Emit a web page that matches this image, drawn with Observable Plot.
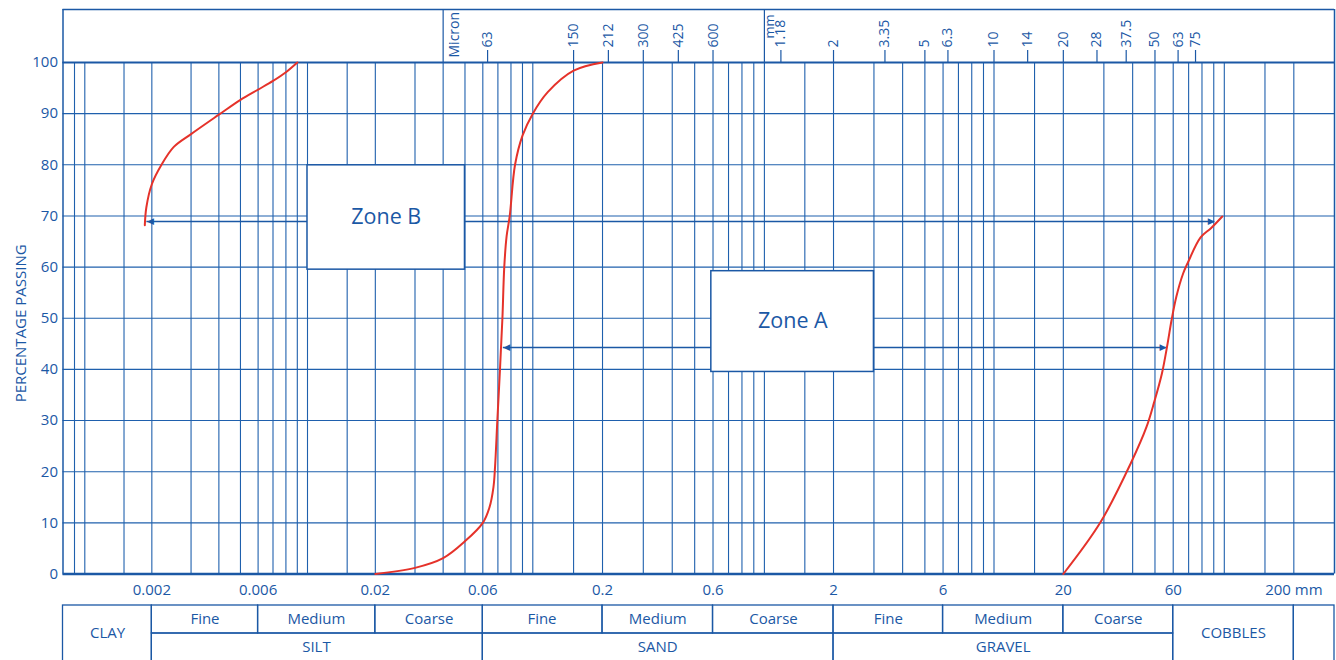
<!DOCTYPE html>
<html>
<head>
<meta charset="utf-8">
<script src="https://cdn.jsdelivr.net/npm/d3@7"></script>
<script src="https://cdn.jsdelivr.net/npm/@observablehq/plot@0.6"></script>
<style>
  html, body { margin: 0; padding: 0; background: #fff; overflow: hidden; }
  #chart svg { display: block; }
</style>
</head>
<body>
<div id="chart"></div>
<script>
// ---------- DATA (particle size in mm, percentage passing) ----------
const sizeExtent = [0.0008, 300];
const gridSizes = [0.0009,
  0.001, 0.0015, 0.002, 0.003, 0.004, 0.005, 0.006, 0.007, 0.008, 0.009,
  0.01, 0.015, 0.02, 0.03, 0.04, 0.05, 0.06, 0.07, 0.08, 0.09,
  0.1, 0.15, 0.2, 0.3, 0.4, 0.5, 0.6, 0.7, 0.8, 0.9,
  1, 1.5, 2, 3, 4, 5, 6, 7, 8, 9,
  10, 15, 20, 30, 40, 50, 60, 70, 80, 90,
  100, 150, 200];
const percentTicks = [0, 10, 20, 30, 40, 50, 60, 70, 80, 90, 100];
const bottomTicks = [0.002, 0.006, 0.02, 0.06, 0.2, 0.6, 2, 6, 20, 60, 200];
const bottomLabels = ["0.002", "0.006", "0.02", "0.06", "0.2", "0.6", "2", "6", "20", "60", "200 mm"];
const micronSieves = [63, 150, 212, 300, 425, 600];           // µm
const mmSieves = [1.18, 2, 3.35, 5, 6.3, 10, 14, 20, 28, 37.5, 50, 63, 75]; // mm
const unitDividers = [0.04, 1];
const unitNames = ["Micron", "mm"];

const curveZoneB = [[0.00186, 68.2], [0.00189, 71.7], [0.002, 76.2], [0.00221, 80], [0.00251, 83.5],
  [0.003, 86], [0.004, 89.8], [0.005, 92.7], [0.006, 94.7], [0.007, 96.4], [0.008, 98.1], [0.009, 100]];
const curveMiddle = [[0.02, 0], [0.03, 1.2], [0.04, 3.1], [0.05, 6.4], [0.06, 10], [0.0642, 13],
  [0.0669, 17], [0.068, 21], [0.0696, 30], [0.0715, 40], [0.0733, 50], [0.0747, 60], [0.0765, 66],
  [0.079, 70], [0.0834, 80], [0.09, 85.7], [0.1, 90], [0.116, 94.2], [0.15, 98.4], [0.2, 100]];
const curveZoneA = [[20, 0], [28.9, 10], [39.4, 21.8], [45.9, 28.7], [49.6, 33.6], [53.6, 39.2],
  [56.7, 45], [59, 49.6], [61.9, 54.2], [66.2, 58.7], [69.5, 60.9], [78.9, 65.8], [87.5, 67.6], [98, 69.9]];

const zoneNames = ["Zone B", "Zone A"];
const zoneSizes = [[0.01, 0.05], [0.59, 3]];
const zonePercents = [[59.5, 79.9], [39.5, 59.2]];
const arrowPercents = [68.9, 44.3];
const arrowSizes = [[0.0019, 90.8], [0.074, 56]];

const subNames = ["Fine", "Medium", "Coarse", "Fine", "Medium", "Coarse", "Fine", "Medium", "Coarse"];
const subBounds = [0.002, 0.006, 0.02, 0.06, 0.2, 0.6, 2, 6, 20, 60];
const mainNames = ["SILT", "SAND", "GRAVEL"];
const mainBounds = [0.002, 0.06, 2, 60];
const spanNames = ["CLAY", "COBBLES", ""];
const spanBounds = [[0.0008, 0.002], [60, 200], [200, 300]];

// ---------- STYLE / SCALE CONFIG ----------
const BLUE = "#1b58a5", GRID = "#1f60ad", RED = "#e5322a";
const FONT = "'Open Sans', 'Noto Sans', sans-serif";
// hand-drawn log paper: calibration of decades to pixels
const xScale = {
  type: "log",
  domain: [0.0008, 0.001, 0.01, 0.1, 1, 10, 100, 300],
  range: [62.5, 84.3, 307, 532.3, 763.9, 993.5, 1223.8, 1334],
  axis: null
};
const headerTop = 110.36;

const zones = zoneNames.map((name, i) => ({name, x1: zoneSizes[i][0], x2: zoneSizes[i][1], y1: zonePercents[i][0], y2: zonePercents[i][1]}));
const arrows = arrowPercents.map((y, i) => ({y, from: arrowSizes[i][0], to: arrowSizes[i][1]}));
const topTicks = [
  ...micronSieves.map(v => ({size: v / 1000, label: String(v)})),
  ...mmSieves.map(v => ({size: v, label: String(v)}))
];
const units = unitNames.map((name, i) => ({name, size: unitDividers[i]}));
const bottom = bottomTicks.map((size, i) => ({size, label: bottomLabels[i]}));

const main = Plot.plot({
  width: 1336,
  height: 604,
  marginLeft: 62.5,
  marginRight: 2,
  marginTop: 9,
  marginBottom: 30.5,
  style: {fontFamily: FONT, color: BLUE, background: "#fff", overflow: "visible"},
  x: xScale,
  y: {domain: [0, headerTop], range: [573.5, 9]},
  marks: [
    // grid
    Plot.ruleX(gridSizes, {y1: 0, y2: 100, stroke: GRID, strokeWidth: 1.1}),
    Plot.ruleY(percentTicks, {x1: sizeExtent[0], x2: sizeExtent[1], stroke: GRID, strokeWidth: 1.1}),
    // frame + header
    Plot.ruleX(sizeExtent, {y1: 0, y2: headerTop, stroke: BLUE, strokeWidth: 1.5}),
    Plot.ruleY([headerTop], {x1: sizeExtent[0], x2: sizeExtent[1], stroke: BLUE, strokeWidth: 1.5}),
    Plot.ruleY([100], {x1: sizeExtent[0], x2: sizeExtent[1], stroke: BLUE, strokeWidth: 2}),
    Plot.ruleY([0], {x1: sizeExtent[0], x2: sizeExtent[1], stroke: BLUE, strokeWidth: 2.5}),
    Plot.ruleX(units, {x: "size", y1: 100, y2: headerTop, stroke: BLUE, strokeWidth: 1.2}),
    // sieve ticks and labels on top
    Plot.ruleX(topTicks, {x: "size", y1: 100, y2: 100, insetTop: -12, stroke: BLUE, strokeWidth: 1.2}),
    Plot.text(topTicks, {x: "size", y: 100, text: "label", rotate: -90, textAnchor: "start", lineAnchor: "middle", dy: -15, fontSize: 14}),
    Plot.text(units.slice(0, 1), {x: "size", y: 100, text: "name", rotate: -90, textAnchor: "start", lineAnchor: "middle", dx: 11, dy: -5, fontSize: 14}),
    Plot.text(units.slice(1), {x: "size", y: 100, text: "name", rotate: -90, textAnchor: "start", lineAnchor: "middle", dx: 5, dy: -24, fontSize: 13}),
    // axes
    Plot.axisY(percentTicks, {anchor: "left", tickSize: 0, tickPadding: 5, fontSize: 15, label: null}),
    Plot.text(bottom, {x: "size", y: 0, text: "label", lineAnchor: "middle", dy: 16, fontSize: 15}),
    Plot.text(["PERCENTAGE PASSING"], {frameAnchor: "left", y: 49, rotate: -90, dx: -42, textAnchor: "middle", lineAnchor: "middle", fontSize: 15}),
    // zone arrows
    Plot.ruleY(arrows, {y: "y", x1: "from", x2: "to", stroke: BLUE, strokeWidth: 1.5}),
    Plot.text(arrows, {x: "from", y: "y", text: () => "◀", textAnchor: "start", fontSize: 9, fontFamily: "DejaVu Sans", fill: BLUE}),
    Plot.text(arrows, {x: "to", y: "y", text: () => "▶", textAnchor: "end", fontSize: 9, fontFamily: "DejaVu Sans", fill: BLUE}),
    // zone boxes
    Plot.rect(zones, {x1: "x1", x2: "x2", y1: "y1", y2: "y2", fill: "#fff", stroke: BLUE, strokeWidth: 1.5}),
    Plot.text(zones, {x: d => Math.sqrt(d.x1 * d.x2), y: d => (d.y1 + d.y2) / 2, text: "name", fontSize: 21.5}),
    // grading curves
    Plot.line(curveZoneB, {x: d => d[0], y: d => d[1], stroke: RED, strokeWidth: 2, curve: "catmull-rom"}),
    Plot.line(curveMiddle, {x: d => d[0], y: d => d[1], stroke: RED, strokeWidth: 2, curve: "catmull-rom"}),
    Plot.line(curveZoneA, {x: d => d[0], y: d => d[1], stroke: RED, strokeWidth: 2, curve: "catmull-rom"})
  ]
});

// classification table
const cells = [
  ...subNames.map((name, i) => ({name, x1: subBounds[i], x2: subBounds[i + 1], y1: 1, y2: 2})),
  ...mainNames.map((name, i) => ({name, x1: mainBounds[i], x2: mainBounds[i + 1], y1: 0, y2: 1})),
  ...spanNames.map((name, i) => ({name, x1: spanBounds[i][0], x2: spanBounds[i][1], y1: 0, y2: 2}))
];

const table = Plot.plot({
  width: 1336,
  height: 60,
  marginLeft: 62.5,
  marginRight: 2,
  marginTop: 1,
  marginBottom: 3,
  style: {fontFamily: FONT, color: BLUE, background: "#fff", overflow: "visible"},
  x: xScale,
  y: {domain: [0, 2], range: [57, 1], axis: null},
  marks: [
    Plot.rect(cells, {x1: "x1", x2: "x2", y1: "y1", y2: "y2", fill: "none", stroke: BLUE, strokeWidth: 1.3}),
    Plot.text(cells, {x: d => Math.sqrt(d.x1 * d.x2), y: d => (d.y1 + d.y2) / 2, text: "name", fontSize: 15})
  ]
});

document.getElementById("chart").append(main, table);
</script>
</body>
</html>
